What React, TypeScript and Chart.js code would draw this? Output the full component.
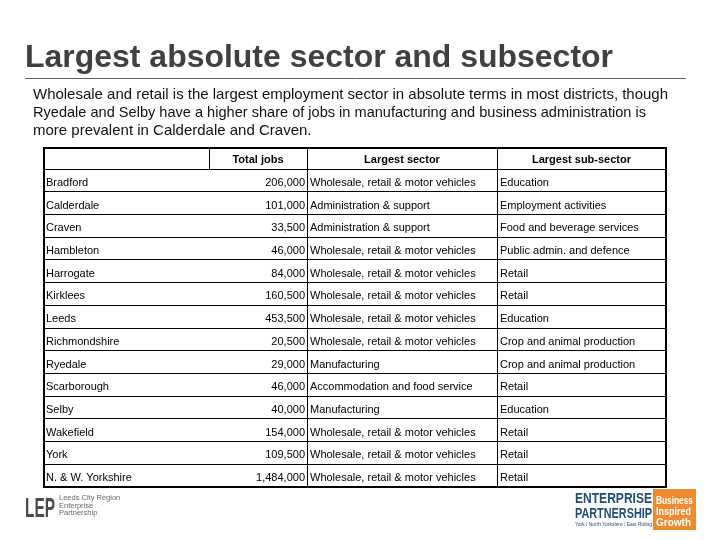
import React, { useEffect, useRef } from "react";
import { Chart, registerables } from "chart.js";

Chart.register(...registerables);

const titleText = "Largest absolute sector and subsector";
const introLines = [
  "Wholesale and retail is the largest employment sector in absolute terms in most districts, though",
  "Ryedale and Selby have a higher share of jobs in manufacturing and business administration is",
  "more prevalent in Calderdale and Craven.",
];
const headers = ["Total jobs", "Largest sector", "Largest sub-sector"];
const districts = [
  "Bradford", "Calderdale", "Craven", "Hambleton", "Harrogate", "Kirklees", "Leeds",
  "Richmondshire", "Ryedale", "Scarborough", "Selby", "Wakefield", "York", "N. & W. Yorkshire",
];
const totalJobs = [
  206000, 101000, 33500, 46000, 84000, 160500, 453500, 20500, 29000, 46000, 40000, 154000, 109500, 1484000,
];
const largestSector = [
  "Wholesale, retail & motor vehicles",
  "Administration & support",
  "Administration & support",
  "Wholesale, retail & motor vehicles",
  "Wholesale, retail & motor vehicles",
  "Wholesale, retail & motor vehicles",
  "Wholesale, retail & motor vehicles",
  "Wholesale, retail & motor vehicles",
  "Manufacturing",
  "Accommodation and food service",
  "Manufacturing",
  "Wholesale, retail & motor vehicles",
  "Wholesale, retail & motor vehicles",
  "Wholesale, retail & motor vehicles",
];
const largestSubSector = [
  "Education",
  "Employment activities",
  "Food and beverage services",
  "Public admin. and defence",
  "Retail",
  "Retail",
  "Education",
  "Crop and animal production",
  "Crop and animal production",
  "Retail",
  "Education",
  "Retail",
  "Retail",
  "Retail",
];

const FONT = "'Liberation Sans', Arial, sans-serif";

const slidePlugin = {
  id: "slide",
  afterDraw(chart: any) {
    const ctx = chart.ctx as CanvasRenderingContext2D;
    const area = chart.chartArea;
    const y = chart.scales.y;
    const left = area.left;
    const right = area.right;
    const headTop = 148;
    const colJobsL = 209;
    const colSector = 307;
    const colSub = 497;
    ctx.save();

    // Title
    ctx.fillStyle = "#404040";
    ctx.font = `bold 32px ${FONT}`;
    ctx.textBaseline = "alphabetic";
    ctx.textAlign = "left";
    ctx.fillText(titleText, 25, 67, 588);
    ctx.strokeStyle = "#606060";
    ctx.lineWidth = 1;
    ctx.beginPath();
    ctx.moveTo(25, 78.5);
    ctx.lineTo(686, 78.5);
    ctx.stroke();

    // Intro
    ctx.fillStyle = "#111";
    ctx.font = `15px ${FONT}`;
    const widths = [635, 613, 280];
    introLines.forEach((t, i) => {
      ctx.fillText(t, 33, 99 + i * 18, widths[i]);
    });

    // Table header
    ctx.fillStyle = "#000";
    ctx.font = `bold 11px ${FONT}`;
    ctx.textAlign = "center";
    ctx.textBaseline = "middle";
    const hy = (headTop + area.top) / 2 + 1;
    ctx.fillText(headers[0], (colJobsL + colSector) / 2, hy);
    ctx.fillText(headers[1], (colSector + colSub) / 2, hy);
    ctx.fillText(headers[2], (colSub + right) / 2, hy);

    // Cells
    ctx.font = `11px ${FONT}`;
    districts.forEach((_, i) => {
      const py = y.getPixelForValue(i) + 2.5;
      ctx.textAlign = "right";
      ctx.fillText(totalJobs[i].toLocaleString("en-GB"), colSector - 2, py);
      ctx.textAlign = "left";
      ctx.fillText(largestSector[i], colSector + 3, py);
      ctx.fillText(largestSubSector[i], colSub + 3, py);
    });

    // Grid lines
    ctx.strokeStyle = "#000";
    ctx.lineWidth = 1;
    ctx.beginPath();
    ctx.moveTo(colJobsL + 0.5, headTop);
    ctx.lineTo(colJobsL + 0.5, area.top);
    ctx.moveTo(colSector + 0.5, headTop);
    ctx.lineTo(colSector + 0.5, area.bottom);
    ctx.moveTo(colSub + 0.5, headTop);
    ctx.lineTo(colSub + 0.5, area.bottom);
    ctx.stroke();
    ctx.lineWidth = 2;
    ctx.strokeRect(left, headTop, right - left, area.bottom - headTop);

    // Left logo (LEP)
    ctx.fillStyle = "#4a4a4a";
    ctx.font = `bold 28px ${FONT}`;
    ctx.textAlign = "left";
    ctx.textBaseline = "alphabetic";
    ctx.fillText("LEP", 25, 517, 30);
    ctx.fillStyle = "#666";
    ctx.font = `7.5px ${FONT}`;
    ctx.fillText("Leeds City Region", 59, 500);
    ctx.fillText("Enterprise", 59, 507.5);
    ctx.fillText("Partnership", 59, 515);

    // Right logo
    ctx.fillStyle = "#1f4c78";
    ctx.font = `bold 15px ${FONT}`;
    ctx.fillText("ENTERPRISE", 575, 503, 77);
    ctx.fillText("PARTNERSHIP", 575, 518, 77);
    ctx.font = `5px ${FONT}`;
    ctx.fillText("York / North Yorkshire / East Riding", 575, 526, 77);
    ctx.fillStyle = "#f08a2e";
    ctx.fillRect(653, 489, 43, 41);
    ctx.fillStyle = "#fff";
    ctx.font = `bold 10px ${FONT}`;
    ctx.fillText("Business", 656, 504, 37);
    ctx.fillText("Inspired", 656, 515, 35);
    ctx.fillText("Growth", 656, 526, 35);

    ctx.restore();
  },
};

export default function App() {
  const ref = useRef<HTMLCanvasElement>(null);
  useEffect(() => {
    if (!ref.current) return;
    const chart = new Chart(ref.current, {
      type: "bar",
      data: {
        labels: districts,
        datasets: [
          {
            label: "Total jobs",
            data: totalJobs,
            backgroundColor: "rgba(0,0,0,0)",
            borderWidth: 0,
          },
        ],
      },
      options: {
        indexAxis: "y",
        animation: false,
        responsive: false,
        devicePixelRatio: 1,
        layout: { padding: { left: 44, right: 54, top: 169, bottom: 53 } },
        plugins: { legend: { display: false }, tooltip: { enabled: false } },
        scales: {
          x: { display: false, min: 0 },
          y: {
            type: "category",
            position: "left",
            grid: { offset: true, color: "#000", lineWidth: 1, drawTicks: false },
            border: { display: false },
            ticks: {
              mirror: true,
              padding: 2,
              labelOffset: 2.5,
              color: "#000",
              font: { family: FONT, size: 11 },
            },
            afterFit: (s: any) => {
              s.width = 0;
            },
          },
        },
      },
      plugins: [slidePlugin],
    } as any);
    return () => chart.destroy();
  }, []);
  return (
    <div style={{ position: "fixed", left: 0, top: 0, width: 720, height: 540, background: "#fff" }}>
      <canvas ref={ref} width={720} height={540} style={{ width: 720, height: 540, display: "block" }} />
    </div>
  );
}
